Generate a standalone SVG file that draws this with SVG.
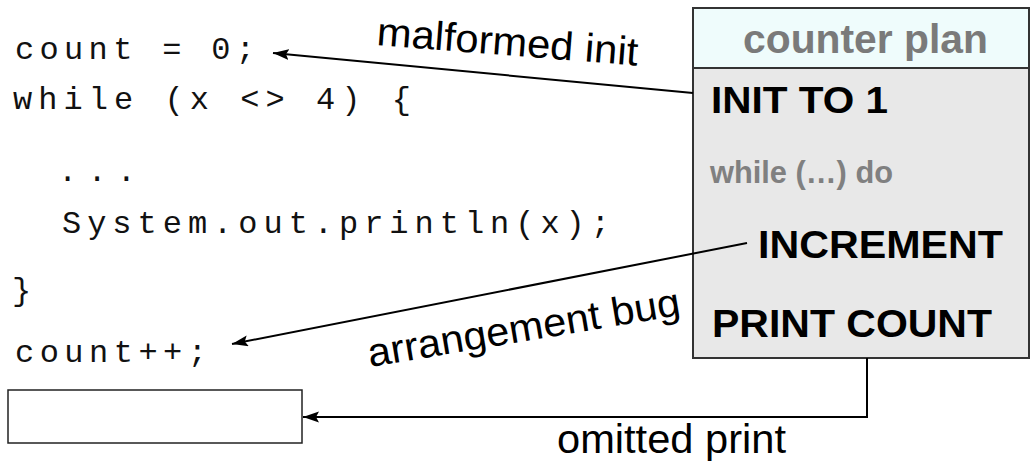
<svg xmlns="http://www.w3.org/2000/svg" width="1031" height="463" viewBox="0 0 1031 463">
  <style>
    .code { font-family: "Liberation Mono", "DejaVu Sans Mono", monospace; font-size: 32px; fill: #111; }
    .plan { font-family: "Liberation Sans", Arial, sans-serif; font-weight: bold; fill: #000; }
    .dim { fill: #7a7a7a; }
    .label { font-family: "Liberation Sans", Arial, sans-serif; font-size: 40px; fill: #000; }
    .conn { fill: none; stroke: #000; stroke-width: 2; marker-end: url(#arrow); }
  </style>
  <defs>
    <marker id="arrow" markerUnits="userSpaceOnUse" markerWidth="17" markerHeight="12" refX="16" refY="5.5" orient="auto">
      <path d="M0,0 L16,5.5 L0,11 L3,5.5 z" fill="#000"/>
    </marker>
  </defs>
  <rect width="1031" height="463" fill="#fff"/>

  <!-- source code listing -->
  <g id="code">
    <text class="code" x="15" y="59" textLength="240" lengthAdjust="spacing">count = 0;</text>
    <text class="code" x="13" y="109" textLength="398" lengthAdjust="spacing">while (x &lt;&gt; 4) {</text>
    <text class="code" x="58" y="181" textLength="78" lengthAdjust="spacing">...</text>
    <text class="code" x="62" y="233" textLength="548" lengthAdjust="spacing">System.out.println(x);</text>
    <text class="code" x="12" y="300">}</text>
    <text class="code" x="15" y="362" textLength="192" lengthAdjust="spacing">count++;</text>
  </g>

  <!-- empty slot where the print statement is missing -->
  <g id="missing-print">
    <rect x="8" y="390" width="294" height="53" fill="#fff" stroke="#222" stroke-width="1.5"/>
  </g>

  <!-- plan box -->
  <g id="counter-plan">
    <rect x="693" y="8" width="336" height="350" fill="#e8e8e8" stroke="#333" stroke-width="2"/>
    <rect x="693" y="8" width="336" height="60" fill="#effcfc" stroke="#333" stroke-width="2"/>
    <text class="plan dim" x="743" y="53" font-size="40" textLength="245" lengthAdjust="spacingAndGlyphs">counter plan</text>
    <text class="plan" x="711" y="113" font-size="37" textLength="177" lengthAdjust="spacingAndGlyphs">INIT TO 1</text>
    <text class="plan" x="710" y="183" font-size="31" style="fill:#808080" textLength="183" lengthAdjust="spacingAndGlyphs">while (…) do</text>
    <text class="plan" x="758" y="258" font-size="39" textLength="245" lengthAdjust="spacingAndGlyphs">INCREMENT</text>
    <text class="plan" x="712" y="337" font-size="38" textLength="280" lengthAdjust="spacingAndGlyphs">PRINT COUNT</text>
  </g>

  <!-- connectors -->
  <g id="connectors">
    <line class="conn" x1="693" y1="93" x2="273" y2="53"/>
    <line class="conn" x1="747" y1="243" x2="232" y2="344"/>
    <polyline class="conn" points="867,358 867,417 303,417"/>
  </g>

  <!-- connector labels -->
  <g id="labels">
    <text class="label" transform="translate(376,45) rotate(4.5)" textLength="262" lengthAdjust="spacingAndGlyphs">malformed init</text>
    <text class="label" transform="translate(370,367) rotate(-9.5)" textLength="316" lengthAdjust="spacingAndGlyphs">arrangement bug</text>
    <text class="label" x="557" y="453" textLength="229" lengthAdjust="spacingAndGlyphs">omitted print</text>
  </g>
</svg>
